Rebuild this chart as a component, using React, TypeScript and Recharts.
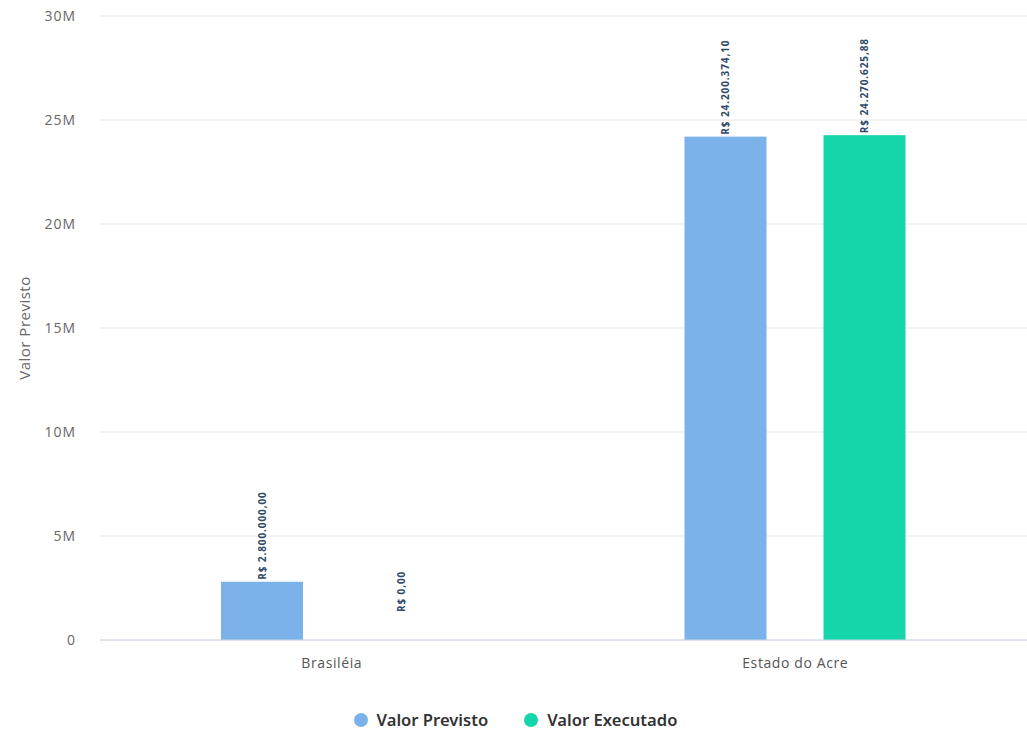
import React from 'react';
import { BarChart, Bar, XAxis, YAxis, CartesianGrid, Legend } from 'recharts';

const categories = ['Brasiléia', 'Estado do Acre'];
const valorPrevisto = [2800000, 24200374.1];
const valorExecutado = [0, 24270625.88];
const yTicks = [0, 5000000, 10000000, 15000000, 20000000, 25000000, 30000000];

const seriesNames = ['Valor Previsto', 'Valor Executado'];
const seriesColors = ['#7cb2ea', '#15d6aa'];

const data = categories.map((name, i) => ({
  name,
  previsto: valorPrevisto[i],
  executado: valorExecutado[i],
}));

// R$ 24.200.374,10 style
const formatBRL = (v: number) => {
  const [int, dec] = v.toFixed(2).split('.');
  const grouped = int.replace(/\B(?=(\d{3})+(?!\d))/g, '.');
  return `R$ ${grouped},${dec}`;
};

const formatTick = (v: number) => (v === 0 ? '0' : `${v / 1000000}M`);

// draws the bar plus its rotated value label (also for empty bars)
const makeShape = (key: 'previsto' | 'executado', color: string) => (props: any) => {
  const { x, y, width, height, payload, background } = props;
  const value = payload[key];
  const cx = x + width / 2 + 4;
  const baseY = background ? background.y + background.height : y + height;
  const realH = value === 0 ? 0 : height;
  const ty = realH < 1 ? baseY - 28 : y - 2;
  return (
    <g>
      {realH > 0 && <rect x={x} y={y} width={width} height={height} fill={color} />}
      <text
        x={cx}
        y={ty}
        transform={`rotate(-90, ${cx}, ${ty})`}
        textAnchor="start"
        fontSize={10}
        letterSpacing={0.9}
        fontWeight={700}
        fill="#2f4a68"
        fontFamily="'Open Sans', sans-serif"
      >
        {formatBRL(value)}
      </text>
    </g>
  );
};

const LegendContent = () => (
  <div
    style={{
      display: 'flex',
      justifyContent: 'center',
      alignItems: 'center',
      paddingTop: 28,
      paddingLeft: 4,
      fontFamily: "'Noto Sans', sans-serif",
      fontWeight: 600,
      fontSize: 16.6,
      color: '#333',
    }}
  >
    {seriesNames.map((n, i) => (
      <div key={n} style={{ display: 'flex', alignItems: 'center', marginRight: i === 0 ? 36 : 0 }}>
        <span
          style={{
            width: 14,
            height: 14,
            borderRadius: 7,
            background: seriesColors[i],
            display: 'inline-block',
            marginRight: 9,
          }}
        />
        <span>{n}</span>
      </div>
    ))}
  </div>
);

const App: React.FC = () => {
  return (
    <div style={{ position: 'absolute', left: 0, top: 0, width: 1027, height: 733, background: '#fff' }}>
      <BarChart
        width={1027}
        height={733}
        data={data}
        margin={{ top: 16, right: 0, left: 0, bottom: 0 }}
        barSize={82}
        barGap={57}
      >
        <CartesianGrid vertical={false} stroke="#e6e6e6" />
        <XAxis
          dataKey="name"
          axisLine={{ stroke: '#ccd6eb' }}
          tickLine={false}
          height={40}
          tick={{ fill: '#555', fontSize: 14, letterSpacing: 0.6, fontFamily: "'Open Sans', sans-serif" }}
          tickMargin={12}
        />
        <YAxis
          width={100}
          domain={[0, 30000000]}
          ticks={yTicks}
          tickFormatter={formatTick}
          axisLine={false}
          tickLine={false}
          tickMargin={18}
          tick={{ fill: '#666', fontSize: 14, letterSpacing: 1, fontFamily: "'Open Sans', sans-serif" }}
          label={{
            value: 'Valor Previsto',
            angle: -90,
            position: 'insideLeft',
            dx: 20,
            style: { textAnchor: 'middle', fill: '#666', fontSize: 15, letterSpacing: 0.5, fontFamily: "'Open Sans', sans-serif" },
          }}
        />
        <Legend verticalAlign="bottom" height={53} content={LegendContent} />
        <Bar
          dataKey="previsto"
          name={seriesNames[0]}
          fill={seriesColors[0]}
          minPointSize={1}
          shape={makeShape('previsto', seriesColors[0])}
          isAnimationActive={false}
        />
        <Bar
          dataKey="executado"
          name={seriesNames[1]}
          fill={seriesColors[1]}
          minPointSize={1}
          shape={makeShape('executado', seriesColors[1])}
          isAnimationActive={false}
        />
      </BarChart>
    </div>
  );
};

export default App;
